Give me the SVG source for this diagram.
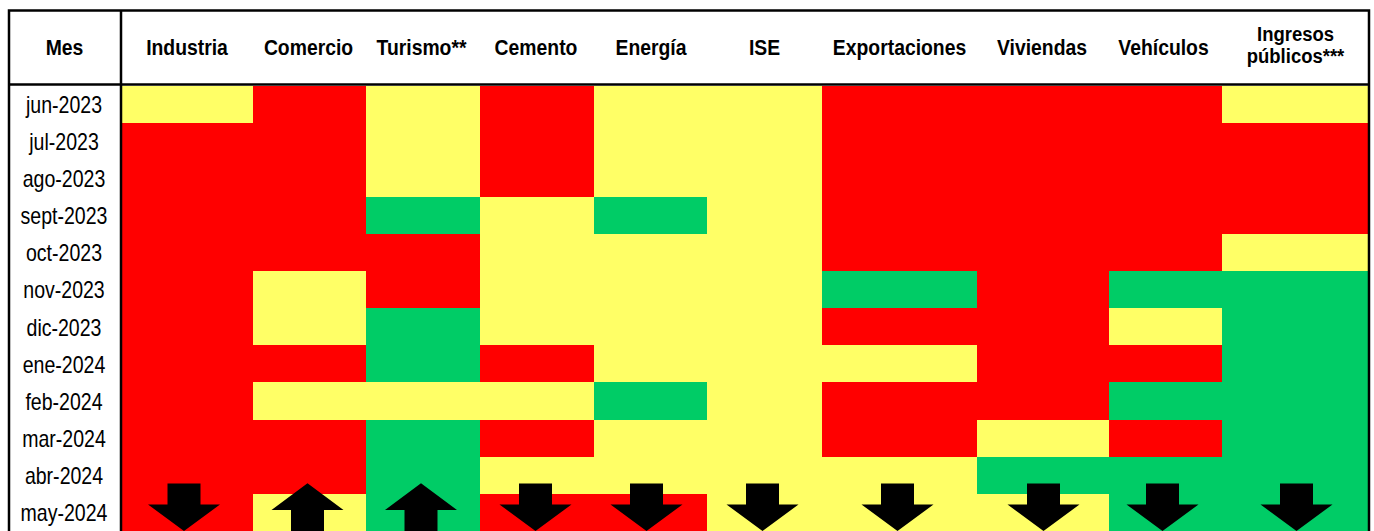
<svg xmlns="http://www.w3.org/2000/svg" xmlns:xlink="http://www.w3.org/1999/xlink" width="1374" height="531" viewBox="0 0 1374 531">
<style>
.r{fill:#FF0000}.y{fill:#FFFF66}.g{fill:#00CC66}
rect{shape-rendering:crispEdges}
.h{font-family:"Liberation Sans",Arial,sans-serif;font-weight:bold;font-size:22px;fill:#000;text-anchor:middle}
.h2{font-size:21px}
.m{font-family:"Liberation Sans",Arial,sans-serif;font-size:23px;fill:#000;text-anchor:middle}
.ln{stroke:#000;stroke-width:2.5;fill:none}
</style>
<defs>
<path id="dn" d="M-16.5,483.5 H16.5 V504.5 H36 L0,531 L-36,504.5 H-16.5 Z" fill="#000"/>
<path id="up" d="M0,483.3 L36,510 H16.5 V533 H-16.5 V510 H-36 Z" fill="#000"/>
</defs>
<rect x="0" y="0" width="1374" height="531" fill="#fff"/>
<g id="cells">
<g id="row-jun-2023">
<rect class="y" x="122" y="85.6" width="131" height="37.1"/><rect class="r" x="253" y="85.6" width="113" height="37.1"/><rect class="y" x="366" y="85.6" width="114" height="37.1"/><rect class="r" x="480" y="85.6" width="114" height="37.1"/><rect class="y" x="594" y="85.6" width="113" height="37.1"/><rect class="y" x="707" y="85.6" width="115" height="37.1"/><rect class="r" x="822" y="85.6" width="155" height="37.1"/><rect class="r" x="977" y="85.6" width="132" height="37.1"/><rect class="r" x="1109" y="85.6" width="113" height="37.1"/><rect class="y" x="1222" y="85.6" width="146" height="37.1"/>
</g>
<g id="row-jul-2023">
<rect class="r" x="122" y="122.7" width="131" height="37.1"/><rect class="r" x="253" y="122.7" width="113" height="37.1"/><rect class="y" x="366" y="122.7" width="114" height="37.1"/><rect class="r" x="480" y="122.7" width="114" height="37.1"/><rect class="y" x="594" y="122.7" width="113" height="37.1"/><rect class="y" x="707" y="122.7" width="115" height="37.1"/><rect class="r" x="822" y="122.7" width="155" height="37.1"/><rect class="r" x="977" y="122.7" width="132" height="37.1"/><rect class="r" x="1109" y="122.7" width="113" height="37.1"/><rect class="r" x="1222" y="122.7" width="146" height="37.1"/>
</g>
<g id="row-ago-2023">
<rect class="r" x="122" y="159.8" width="131" height="37.1"/><rect class="r" x="253" y="159.8" width="113" height="37.1"/><rect class="y" x="366" y="159.8" width="114" height="37.1"/><rect class="r" x="480" y="159.8" width="114" height="37.1"/><rect class="y" x="594" y="159.8" width="113" height="37.1"/><rect class="y" x="707" y="159.8" width="115" height="37.1"/><rect class="r" x="822" y="159.8" width="155" height="37.1"/><rect class="r" x="977" y="159.8" width="132" height="37.1"/><rect class="r" x="1109" y="159.8" width="113" height="37.1"/><rect class="r" x="1222" y="159.8" width="146" height="37.1"/>
</g>
<g id="row-sept-2023">
<rect class="r" x="122" y="196.9" width="131" height="37.1"/><rect class="r" x="253" y="196.9" width="113" height="37.1"/><rect class="g" x="366" y="196.9" width="114" height="37.1"/><rect class="y" x="480" y="196.9" width="114" height="37.1"/><rect class="g" x="594" y="196.9" width="113" height="37.1"/><rect class="y" x="707" y="196.9" width="115" height="37.1"/><rect class="r" x="822" y="196.9" width="155" height="37.1"/><rect class="r" x="977" y="196.9" width="132" height="37.1"/><rect class="r" x="1109" y="196.9" width="113" height="37.1"/><rect class="r" x="1222" y="196.9" width="146" height="37.1"/>
</g>
<g id="row-oct-2023">
<rect class="r" x="122" y="234" width="131" height="37.1"/><rect class="r" x="253" y="234" width="113" height="37.1"/><rect class="r" x="366" y="234" width="114" height="37.1"/><rect class="y" x="480" y="234" width="114" height="37.1"/><rect class="y" x="594" y="234" width="113" height="37.1"/><rect class="y" x="707" y="234" width="115" height="37.1"/><rect class="r" x="822" y="234" width="155" height="37.1"/><rect class="r" x="977" y="234" width="132" height="37.1"/><rect class="r" x="1109" y="234" width="113" height="37.1"/><rect class="y" x="1222" y="234" width="146" height="37.1"/>
</g>
<g id="row-nov-2023">
<rect class="r" x="122" y="271.1" width="131" height="37.1"/><rect class="y" x="253" y="271.1" width="113" height="37.1"/><rect class="r" x="366" y="271.1" width="114" height="37.1"/><rect class="y" x="480" y="271.1" width="114" height="37.1"/><rect class="y" x="594" y="271.1" width="113" height="37.1"/><rect class="y" x="707" y="271.1" width="115" height="37.1"/><rect class="g" x="822" y="271.1" width="155" height="37.1"/><rect class="r" x="977" y="271.1" width="132" height="37.1"/><rect class="g" x="1109" y="271.1" width="113" height="37.1"/><rect class="g" x="1222" y="271.1" width="146" height="37.1"/>
</g>
<g id="row-dic-2023">
<rect class="r" x="122" y="308.2" width="131" height="37.1"/><rect class="y" x="253" y="308.2" width="113" height="37.1"/><rect class="g" x="366" y="308.2" width="114" height="37.1"/><rect class="y" x="480" y="308.2" width="114" height="37.1"/><rect class="y" x="594" y="308.2" width="113" height="37.1"/><rect class="y" x="707" y="308.2" width="115" height="37.1"/><rect class="r" x="822" y="308.2" width="155" height="37.1"/><rect class="r" x="977" y="308.2" width="132" height="37.1"/><rect class="y" x="1109" y="308.2" width="113" height="37.1"/><rect class="g" x="1222" y="308.2" width="146" height="37.1"/>
</g>
<g id="row-ene-2024">
<rect class="r" x="122" y="345.3" width="131" height="37.1"/><rect class="r" x="253" y="345.3" width="113" height="37.1"/><rect class="g" x="366" y="345.3" width="114" height="37.1"/><rect class="r" x="480" y="345.3" width="114" height="37.1"/><rect class="y" x="594" y="345.3" width="113" height="37.1"/><rect class="y" x="707" y="345.3" width="115" height="37.1"/><rect class="y" x="822" y="345.3" width="155" height="37.1"/><rect class="r" x="977" y="345.3" width="132" height="37.1"/><rect class="r" x="1109" y="345.3" width="113" height="37.1"/><rect class="g" x="1222" y="345.3" width="146" height="37.1"/>
</g>
<g id="row-feb-2024">
<rect class="r" x="122" y="382.4" width="131" height="37.1"/><rect class="y" x="253" y="382.4" width="113" height="37.1"/><rect class="y" x="366" y="382.4" width="114" height="37.1"/><rect class="y" x="480" y="382.4" width="114" height="37.1"/><rect class="g" x="594" y="382.4" width="113" height="37.1"/><rect class="y" x="707" y="382.4" width="115" height="37.1"/><rect class="r" x="822" y="382.4" width="155" height="37.1"/><rect class="r" x="977" y="382.4" width="132" height="37.1"/><rect class="g" x="1109" y="382.4" width="113" height="37.1"/><rect class="g" x="1222" y="382.4" width="146" height="37.1"/>
</g>
<g id="row-mar-2024">
<rect class="r" x="122" y="419.5" width="131" height="37.1"/><rect class="r" x="253" y="419.5" width="113" height="37.1"/><rect class="g" x="366" y="419.5" width="114" height="37.1"/><rect class="r" x="480" y="419.5" width="114" height="37.1"/><rect class="y" x="594" y="419.5" width="113" height="37.1"/><rect class="y" x="707" y="419.5" width="115" height="37.1"/><rect class="r" x="822" y="419.5" width="155" height="37.1"/><rect class="y" x="977" y="419.5" width="132" height="37.1"/><rect class="r" x="1109" y="419.5" width="113" height="37.1"/><rect class="g" x="1222" y="419.5" width="146" height="37.1"/>
</g>
<g id="row-abr-2024">
<rect class="r" x="122" y="456.6" width="131" height="37.1"/><rect class="r" x="253" y="456.6" width="113" height="37.1"/><rect class="g" x="366" y="456.6" width="114" height="37.1"/><rect class="y" x="480" y="456.6" width="114" height="37.1"/><rect class="y" x="594" y="456.6" width="113" height="37.1"/><rect class="y" x="707" y="456.6" width="115" height="37.1"/><rect class="y" x="822" y="456.6" width="155" height="37.1"/><rect class="g" x="977" y="456.6" width="132" height="37.1"/><rect class="g" x="1109" y="456.6" width="113" height="37.1"/><rect class="g" x="1222" y="456.6" width="146" height="37.1"/>
</g>
<g id="row-may-2024">
<rect class="r" x="122" y="493.7" width="131" height="37.3"/><rect class="y" x="253" y="493.7" width="113" height="37.3"/><rect class="g" x="366" y="493.7" width="114" height="37.3"/><rect class="r" x="480" y="493.7" width="114" height="37.3"/><rect class="r" x="594" y="493.7" width="113" height="37.3"/><rect class="y" x="707" y="493.7" width="115" height="37.3"/><rect class="y" x="822" y="493.7" width="155" height="37.3"/><rect class="y" x="977" y="493.7" width="132" height="37.3"/><rect class="g" x="1109" y="493.7" width="113" height="37.3"/><rect class="g" x="1222" y="493.7" width="146" height="37.3"/>
</g>
</g>
<g id="grid">
<path class="ln" d="M9,531 V10.5 H1369 V531"/>
<path class="ln" d="M9,84.5 H1369"/>
<path class="ln" d="M121,10.5 V531"/>
</g>
<g id="header" transform="scale(0.88,1)">
<text class="h" x="73.3" y="55">Mes</text>
<text class="h" x="212.5" y="55">Industria</text>
<text class="h" x="350.6" y="55">Comercio</text>
<text class="h" x="479" y="55">Turismo**</text>
<text class="h" x="609.1" y="55">Cemento</text>
<text class="h" x="739.8" y="55">Energía</text>
<text class="h" x="868.8" y="55">ISE</text>
<text class="h" x="1022.2" y="55">Exportaciones</text>
<text class="h" x="1184.1" y="55">Viviendas</text>
<text class="h" x="1322.2" y="55">Vehículos</text>
<text class="h h2" x="1472.2" y="41">Ingresos</text>
<text class="h h2" x="1472.2" y="63">públicos***</text>
</g>
<g id="months" transform="scale(0.85,1)">
<text class="m" x="75.3" y="113">jun-2023</text>
<text class="m" x="75.3" y="150.1">jul-2023</text>
<text class="m" x="75.3" y="187.2">ago-2023</text>
<text class="m" x="75.3" y="224.3">sept-2023</text>
<text class="m" x="75.3" y="261.4">oct-2023</text>
<text class="m" x="75.3" y="298.5">nov-2023</text>
<text class="m" x="75.3" y="335.6">dic-2023</text>
<text class="m" x="75.3" y="372.7">ene-2024</text>
<text class="m" x="75.3" y="409.8">feb-2024</text>
<text class="m" x="75.3" y="446.9">mar-2024</text>
<text class="m" x="75.3" y="484">abr-2024</text>
<text class="m" x="75.3" y="521.1">may-2024</text>
</g>
<g id="arrows">
<use xlink:href="#dn" x="184"/>
<use xlink:href="#up" x="307.5"/>
<use xlink:href="#up" x="421"/>
<use xlink:href="#dn" x="535.5"/>
<use xlink:href="#dn" x="646.5"/>
<use xlink:href="#dn" x="762.5"/>
<use xlink:href="#dn" x="897.5"/>
<use xlink:href="#dn" x="1043.5"/>
<use xlink:href="#dn" x="1162.5"/>
<use xlink:href="#dn" x="1296.5"/>
</g>
</svg>
